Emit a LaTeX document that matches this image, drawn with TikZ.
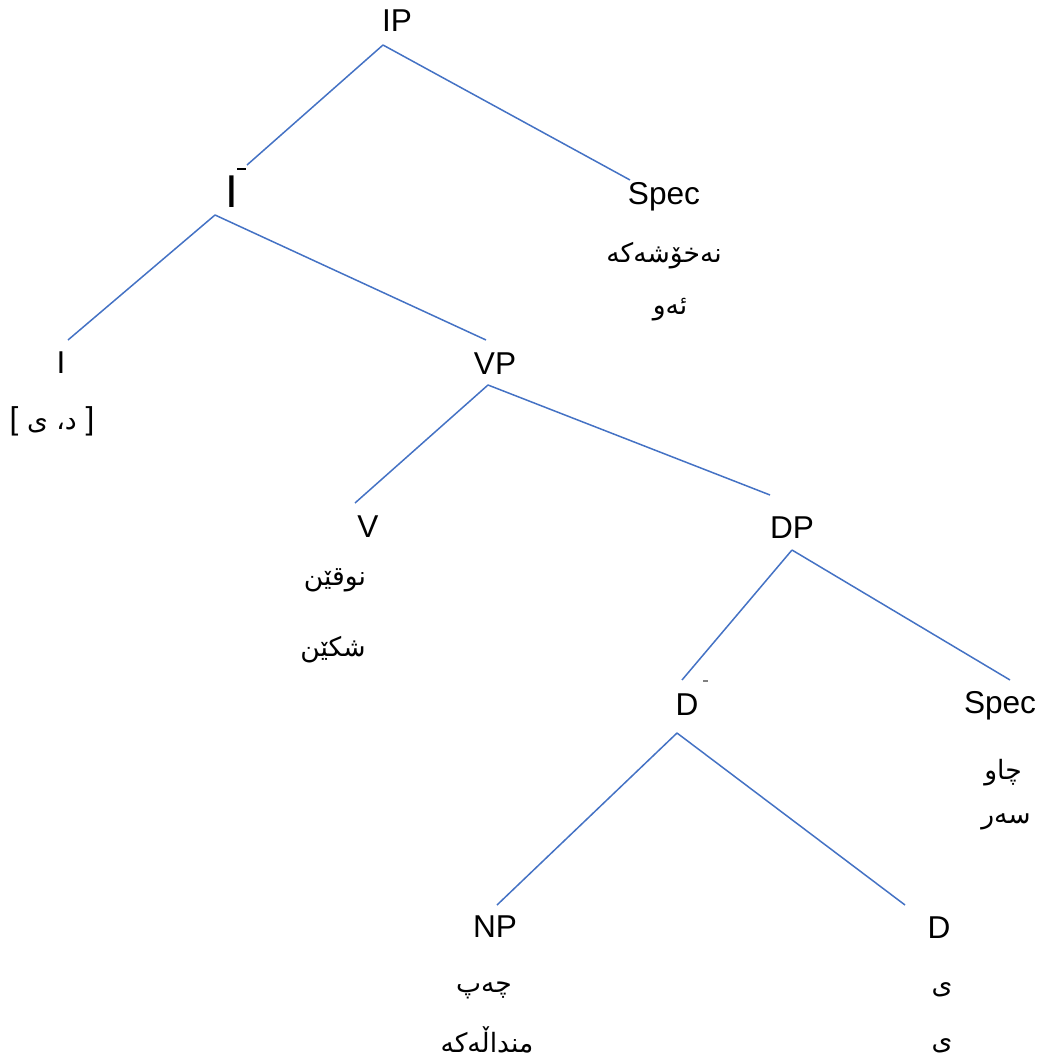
\documentclass[tikz,border=0pt]{standalone}
\usepackage{fontspec}
\setmainfont{Liberation Sans}
\newfontfamily\arabicfont[Script=Arabic]{DejaVu Sans}
\TeXXeTstate=1
\usetikzlibrary{positioning}
\definecolor{branchblue}{RGB}{68,114,196}

\begin{document}
\begin{tikzpicture}[x=0.5pt, y=-0.5pt,
    cat/.style={inner sep=0pt, font=\fontsize{15.8}{18}\selectfont},
    word/.style={inner sep=0pt, font=\fontsize{13.3}{16}\selectfont},
    branch/.style={draw=branchblue, line width=0.75pt}]
    \useasboundingbox (0,0) rectangle (1041,1059);

    % category labels
    \node[cat] (ip) at (397,21) {IP};
    \node[inner sep=0pt, font=\fontsize{23}{26}\selectfont] (ibar) at (232,192) {I};
    \draw[line width=0.6pt] (237,169) -- (246,169);
    \node[cat] (spec1) at (664,197) {Spec};
    \node[cat] (i) at (61,363) {I};
    \node[cat] (vp) at (495,364) {VP};
    \node[cat] (v) at (368,527) {V};
    \node[cat] (dp) at (792,528) {DP};
    \node[cat] (dbar) at (687,705) {D};
    \draw[line width=0.6pt, black!50] (703,681) -- (708,681);
    \node[cat] (spec2) at (1000,706) {Spec};
    \node[cat] (np) at (495,927) {NP};
    \node[cat] (d) at (939,928) {D};

    % words
    \node[word] (spec1-a) at (664,256) {\arabicfont\beginR نەخۆشەکە\endR};
    \node[word] (spec1-b) at (670,310) {\arabicfont\beginR ئەو\endR};
    \node[cat] (i-a) at (52,421) {[ {\fontsize{13.3}{16}\arabicfont\beginR د، ی\endR} ]};
    \node[word] (v-a) at (335,580) {\arabicfont\beginR نوقێن\endR};
    \node[word] (v-b) at (333,650) {\arabicfont\beginR شکێن\endR};
    \node[word] (spec2-a) at (1003,773) {\arabicfont\beginR چاو\endR};
    \node[word] (spec2-b) at (1006,822) {\arabicfont\beginR سەر\endR};
    \node[word] (np-a) at (484,990) {\arabicfont\beginR چەپ\endR};
    \node[word] (np-b) at (487,1040) {\arabicfont\beginR منداڵەکە\endR};
    \node[word] (d-a) at (942,990) {\arabicfont\beginR ی\endR};
    \node[word] (d-b) at (942,1046) {\arabicfont\beginR ی\endR};

    % branch points and line ends
    \coordinate (ip-b) at (383,45);
    \coordinate (ibar-t) at (247,165);
    \coordinate (spec1-t) at (630,180);
    \coordinate (ibar-b) at (215,215);
    \coordinate (i-t) at (68,340);
    \coordinate (vp-t) at (486,340);
    \coordinate (vp-b) at (488,385);
    \coordinate (v-t) at (355,503);
    \coordinate (dp-t) at (770,495);
    \coordinate (dp-b) at (792,550);
    \coordinate (dbar-t) at (682,680);
    \coordinate (spec2-t) at (1010,680);
    \coordinate (dbar-b) at (677,733);
    \coordinate (np-t) at (497,905);
    \coordinate (d-t) at (905,905);

    \foreach \a/\b in {ip-b/ibar-t, ip-b/spec1-t, ibar-b/i-t, ibar-b/vp-t,
        vp-b/v-t, vp-b/dp-t, dp-b/dbar-t, dp-b/spec2-t, dbar-b/np-t, dbar-b/d-t} {
        \draw[branch] (\a) -- (\b);
    };
\end{tikzpicture}
\end{document}
